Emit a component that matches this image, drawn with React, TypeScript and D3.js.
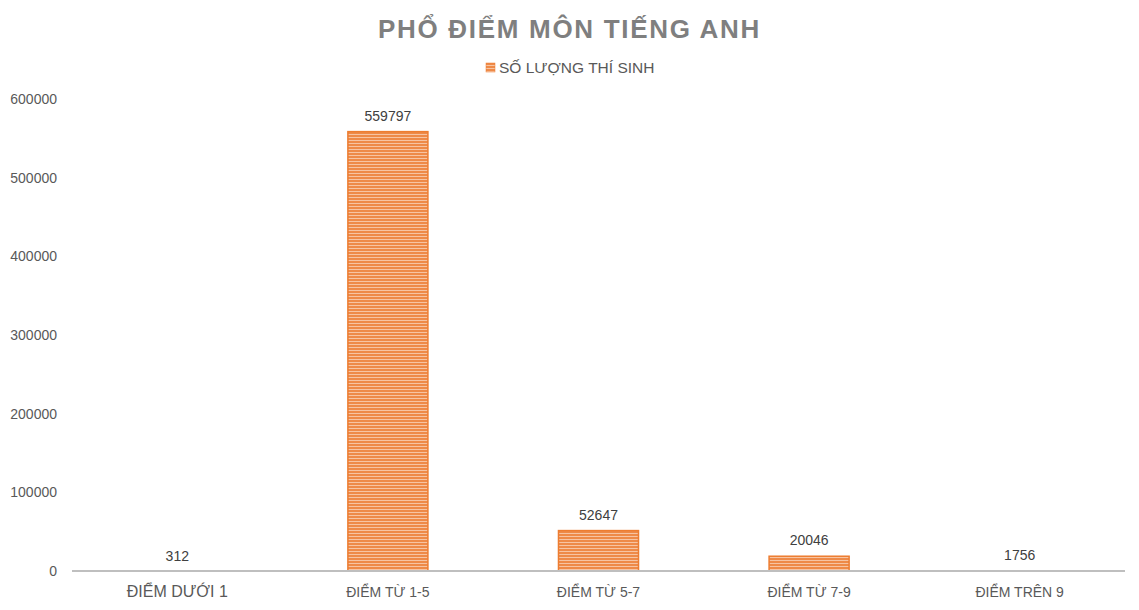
import React from "react";
import * as d3 from "d3";

const categories = ["ĐIỂM DƯỚI 1", "ĐIỂM TỪ 1-5", "ĐIỂM TỪ 5-7", "ĐIỂM TỪ 7-9", "ĐIỂM TRÊN 9"];
const values = [312, 559797, 52647, 20046, 1756];
const yTicks = [0, 100000, 200000, 300000, 400000, 500000, 600000];
const title = "PHỔ ĐIỂM MÔN TIẾNG ANH";
const seriesName = "SỐ LƯỢNG THÍ SINH";

const W = 1139;
const H = 610;
const margin = { left: 72, right: 14, top: 99, bottom: 39 };

export default function App() {
  const x = d3
    .scaleBand<string>()
    .domain(categories)
    .range([margin.left, W - margin.right])
    .paddingInner(0.62)
    .paddingOuter(0.31);
  const y = d3.scaleLinear().domain([0, 600000]).range([H - margin.bottom, margin.top]);
  const font = "'Liberation Sans', Arial, sans-serif";
  const textColor = "#595959";
  return (
    <svg width={W} height={H} style={{ position: "absolute", left: 0, top: 0 }} fontFamily={font}>
      <defs>
        <pattern id="stripes" patternUnits="userSpaceOnUse" width={8} height={3}>
          <rect x={0} y={0} width={8} height={3} fill="#F7C4A2" />
          <rect x={0} y={0} width={8} height={2} fill="#EE8A48" />
        </pattern>
      </defs>
      <rect width={W} height={H} fill="#fff" />
      <text
        x={W / 2}
        y={38}
        textAnchor="middle"
        fontSize={26}
        fontWeight="bold"
        letterSpacing={1.7}
        fill="#7f7f7f"
      >
        {title}
      </text>
      <g>
        <rect x={486} y={63} width={9} height={9} fill="url(#stripes)" stroke="#ED7D31" strokeWidth={0.5} />
        <text x={499} y={73} fontSize={15.5} fill={textColor}>
          {seriesName}
        </text>
      </g>
      {yTicks.map((t) => (
        <text key={t} x={57} y={y(t) + 5} textAnchor="end" fontSize={14} fill={textColor}>
          {t}
        </text>
      ))}
      {categories.map((c, i) => {
        const bx = x(c)!;
        const by = y(values[i]);
        const h = y(0) - by;
        return (
          <g key={c}>
            {h > 2 && (
              <rect
                x={bx}
                y={by + 1}
                width={x.bandwidth()}
                height={h - 1}
                fill="url(#stripes)"
                stroke="#ED7D31"
                strokeWidth={1.5}
              />
            )}
            <text x={bx + x.bandwidth() / 2} y={by - 10} textAnchor="middle" fontSize={14} fill="#404040">
              {values[i]}
            </text>
            <text
              x={bx + x.bandwidth() / 2}
              y={H - 13}
              textAnchor="middle"
              fontSize={i === 0 ? 16 : 14}
              fill={textColor}
            >
              {c}
            </text>
          </g>
        );
      })}
      <line x1={margin.left} x2={W - margin.right} y1={y(0)} y2={y(0)} stroke="#bfbfbf" strokeWidth={2} />
    </svg>
  );
}
